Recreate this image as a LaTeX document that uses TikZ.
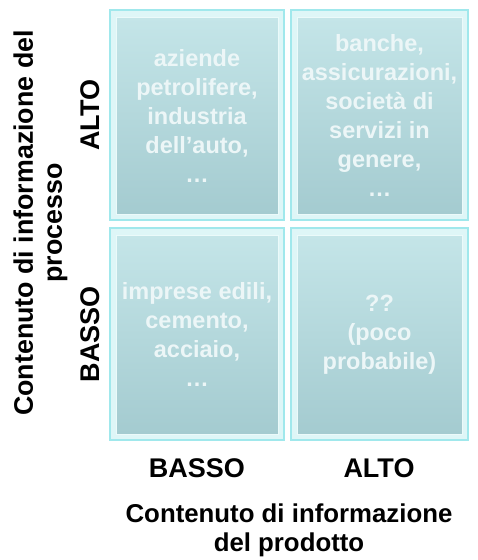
\documentclass[tikz,border=0pt]{standalone}
\usepackage{fontspec}
\setmainfont{Liberation Sans}
\definecolor{framefill}{RGB}{222,246,247}
\definecolor{frameline}{RGB}{160,232,236}
\definecolor{celltop}{RGB}{196,229,232}
\definecolor{cellbot}{RGB}{164,203,208}
\definecolor{celltext}{RGB}{236,246,247}
\tikzset{
  frame/.style={draw=frameline, line width=1.2pt, fill=framefill, inner sep=0pt},
  cell/.style={draw=framefill!60!white, line width=0.8pt, top color=celltop, bottom color=cellbot,
    inner sep=0pt, align=center, text=celltext,
    font=\bfseries\fontsize{23.5}{29}\selectfont},
  axis/.style={font=\bfseries\fontsize{27}{32}\selectfont, inner sep=0pt},
  title/.style={font=\bfseries\fontsize{25.8}{29}\selectfont, align=center, inner sep=0pt}
}
\begin{document}
\begin{tikzpicture}[x=1pt,y=-1pt]
\useasboundingbox (0,0) rectangle (478,560);
% frames
\node[frame, minimum width=174pt, minimum height=210pt] (ftl) at (197,115) {};
\node[frame, minimum width=177pt, minimum height=210pt] (ftr) at (379.5,115) {};
\node[frame, minimum width=174pt, minimum height=212pt] (fbl) at (197,334) {};
\node[frame, minimum width=177pt, minimum height=212pt] (fbr) at (379.5,334) {};
% cells
\node[cell, minimum width=162pt, minimum height=197pt] (tl) at (197,115.5)
  {aziende\\petrolifere,\\industria\\dell’auto,\\…};
\node[cell, minimum width=165pt, minimum height=197pt] (tr) at (379.5,115.5)
  {banche,\\assicurazioni,\\società di\\servizi in\\genere,\\…};
\node[cell, minimum width=162pt, minimum height=199pt] (bl) at (197,334.5)
  {imprese edili,\\cemento,\\acciaio,\\…};
\node[cell, minimum width=165pt, minimum height=199pt] (br) at (379.5,334.5)
  {??\\(poco\\probabile)};
% axis values
\node[axis, anchor=base, rotate=90] (yalto) at (99,115) {ALTO};
\node[axis, anchor=base, rotate=90] (ybasso) at (99,334) {BASSO};
\node[axis, anchor=base] (xbasso) at (197,477) {BASSO};
\node[axis, anchor=base] (xalto) at (379,477) {ALTO};
% axis titles
\node[title, rotate=90, font=\bfseries\fontsize{26.8}{29}\selectfont] (ytitle) at (40.5,223)
  {Contenuto di informazione del\\processo};
\node[title] (xtitle) at (289,530) {Contenuto di informazione\\del prodotto};
\end{tikzpicture}
\end{document}
